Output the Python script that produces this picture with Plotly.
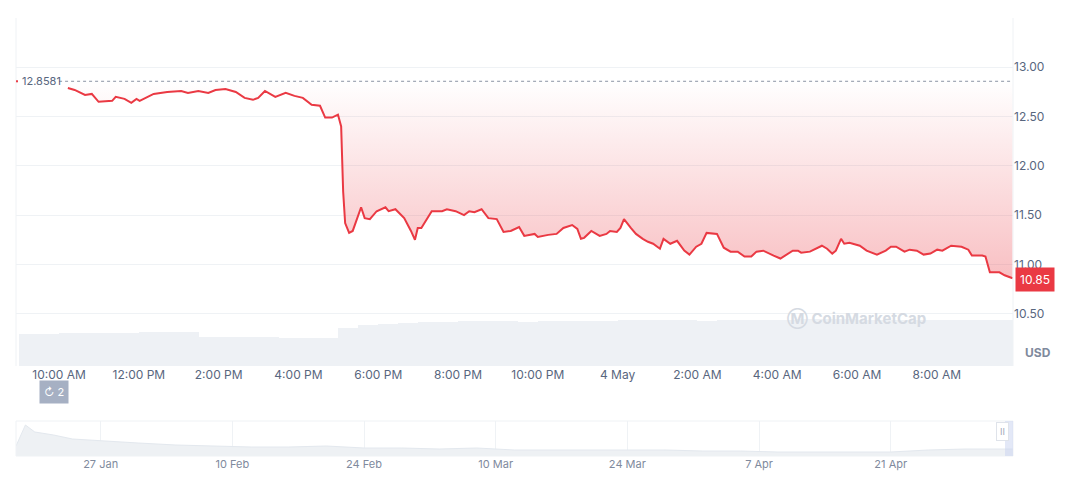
import pandas as pd
import plotly.graph_objects as go

# price, hours after 3 May 10:00 AM
price_hours = [0.22, 0.39, 0.65, 0.82, 0.99, 1.33, 1.42, 1.64, 1.81, 1.94, 2.02, 2.37, 2.71, 3.06,
               3.23, 3.49, 3.74, 3.92, 4.17, 4.43, 4.65, 4.86, 4.99, 5.16, 5.42, 5.68, 5.90, 6.11,
               6.33, 6.54, 6.67, 6.84, 6.99, 7.07, 7.12, 7.17, 7.27, 7.36, 7.57, 7.66, 7.79, 7.96,
               8.18, 8.26, 8.43, 8.65, 8.82, 8.92, 8.99, 9.08, 9.34, 9.60, 9.72, 9.94, 10.15, 10.28,
               10.41, 10.59, 10.76, 10.97, 11.14, 11.32, 11.53, 11.66, 11.92, 12.00, 12.26, 12.47,
               12.64, 12.86, 12.99, 13.08, 13.16, 13.34, 13.55, 13.72, 13.81, 13.98, 14.07, 14.16,
               14.33, 14.46, 14.63, 14.76, 14.89, 15.06, 15.15, 15.32, 15.49, 15.67, 15.80, 15.97,
               16.10, 16.23, 16.49, 16.66, 16.83, 17.01, 17.18, 17.35, 17.48, 17.65, 17.91, 18.08,
               18.39, 18.52, 18.60, 18.82, 19.12, 19.25, 19.38, 19.47, 19.60, 19.68, 19.81, 20.07,
               20.24, 20.50, 20.72, 20.85, 20.98, 21.19, 21.32, 21.50, 21.67, 21.84, 22.01, 22.14,
               22.36, 22.62, 22.79, 22.88, 23.14, 23.22, 23.33, 23.57, 23.70, 23.90]
price_values = [12.79, 12.77, 12.72, 12.73, 12.65, 12.66, 12.70, 12.68, 12.64, 12.68, 12.66, 12.73,
                12.75, 12.76, 12.74, 12.76, 12.74, 12.77, 12.78, 12.75, 12.69, 12.67, 12.69, 12.76,
                12.70, 12.74, 12.71, 12.69, 12.62, 12.61, 12.49, 12.49, 12.52, 12.40, 11.74, 11.42,
                11.32, 11.34, 11.58, 11.47, 11.46, 11.54, 11.58, 11.54, 11.56, 11.47, 11.34, 11.25,
                11.37, 11.37, 11.54, 11.54, 11.56, 11.54, 11.50, 11.54, 11.53, 11.56, 11.47, 11.46,
                11.33, 11.34, 11.38, 11.29, 11.31, 11.28, 11.30, 11.31, 11.37, 11.40, 11.36, 11.26,
                11.27, 11.34, 11.29, 11.31, 11.34, 11.33, 11.37, 11.46, 11.37, 11.31, 11.26, 11.23,
                11.21, 11.16, 11.26, 11.21, 11.24, 11.14, 11.10, 11.18, 11.21, 11.32, 11.31, 11.17,
                11.13, 11.13, 11.08, 11.08, 11.13, 11.14, 11.09, 11.06, 11.14, 11.14, 11.12, 11.13,
                11.19, 11.16, 11.11, 11.14, 11.26, 11.21, 11.22, 11.19, 11.14, 11.10, 11.14, 11.18,
                11.18, 11.13, 11.15, 11.14, 11.10, 11.11, 11.15, 11.14, 11.19, 11.18, 11.15, 11.09,
                11.09, 11.08, 10.92, 10.92, 10.89, 10.86]
open_price = 12.8581
last_price = 10.85

# volume every 30 min from 3 May 9:00 AM
volume_values = [32, 32, 33, 33, 33, 33, 34, 34, 34, 29, 29, 29, 29, 28, 28, 28,
                 38, 41, 42, 43, 44, 44, 45, 45, 45, 44, 45, 45, 45, 45, 46, 46, 46, 46,
                 45, 46, 46, 46, 46, 47, 47, 47, 46, 46, 46, 46, 46, 46, 46, 46]

tick_hours = [0, 2, 4, 6, 8, 10, 12, 14, 16, 18, 20, 22]
tick_labels = ['10:00 AM', '12:00 PM', '2:00 PM', '4:00 PM', '6:00 PM', '8:00 PM', '10:00 PM',
               '4 May', '2:00 AM', '4:00 AM', '6:00 AM', '8:00 AM']
price_ticks = [10.50, 11.00, 11.50, 12.00, 12.50, 13.00]

# navigator history
nav_dates = ['2025-01-18', '2025-01-19', '2025-01-20', '2025-01-22', '2025-01-24', '2025-01-27',
             '2025-01-31', '2025-02-04', '2025-02-08', '2025-02-12', '2025-02-16', '2025-02-20',
             '2025-02-24', '2025-02-28', '2025-03-04', '2025-03-08', '2025-03-12', '2025-03-16',
             '2025-03-20', '2025-03-24', '2025-03-28', '2025-04-01', '2025-04-05', '2025-04-09',
             '2025-04-13', '2025-04-17', '2025-04-21', '2025-04-25', '2025-04-29', '2025-05-04']
nav_values = [10, 31, 24, 21, 17, 15, 13, 11, 10, 9, 9, 10, 8, 8, 7, 8, 6, 6,
              6, 6, 6, 5, 5, 4, 4, 4, 4, 6, 7, 7]
nav_ticks = ['2025-01-27', '2025-02-10', '2025-02-24', '2025-03-10', '2025-03-24', '2025-04-07', '2025-04-21']
nav_labels = ['27 Jan', '10 Feb', '24 Feb', '10 Mar', '24 Mar', '7 Apr', '21 Apr']

base = pd.Timestamp('2025-05-03 10:00')
px = [base + pd.Timedelta(hours=h) for h in price_hours]
vx = [base + pd.Timedelta(hours=-1 + 0.5 * i) + pd.Timedelta(minutes=15) for i in range(len(volume_values))]
x0 = base + pd.Timedelta(hours=-1.08)
x1 = base + pd.Timedelta(hours=23.91)

RED = '#ea3943'
GRID = '#eff2f5'
TXT = '#58667e'

fig = go.Figure()

fig.add_trace(go.Bar(x=vx, y=volume_values, yaxis='y2', marker=dict(color='#eef1f5', line_width=0),
                     width=30 * 60 * 1000, hoverinfo='skip'))
fig.add_trace(go.Scatter(x=px, y=[open_price] * len(px), mode='lines', line=dict(width=0),
                         hoverinfo='skip'))
fig.add_trace(go.Scatter(x=px, y=price_values, mode='lines', line=dict(color=RED, width=2),
                         fill='tonexty',
                         fillgradient=dict(type='vertical',
                                           colorscale=[[0, 'rgba(234,57,67,0.32)'],
                                                       [1, 'rgba(234,57,67,0.0)']])))
fig.add_trace(go.Scatter(x=pd.to_datetime(nav_dates), y=nav_values, xaxis='x2', yaxis='y3',
                         mode='lines', line=dict(color='#e3e8ee', width=1), fill='tozeroy',
                         fillcolor='#eef1f4', hoverinfo='skip'))

fig.update_layout(
    width=1072, height=477, showlegend=False, plot_bgcolor='white', paper_bgcolor='white',
    margin=dict(l=0, r=0, t=0, b=0, autoexpand=False), bargap=0,
    font=dict(family='Inter, Roboto, sans-serif', color=TXT, size=12),
    xaxis=dict(domain=[8 / 1072, 1005 / 1072], range=[x0, x1], showgrid=False, zeroline=False,
               tickvals=[base + pd.Timedelta(hours=h) for h in tick_hours], ticktext=tick_labels,
               ticks='', showline=False, automargin=False, tickfont=dict(size=12, color=TXT)),
    yaxis=dict(domain=[119 / 477, 467 / 477], range=[9.97, 13.5], side='right',
               tickvals=price_ticks, ticktext=[f'{v:.2f}' for v in price_ticks], automargin=False,
               gridcolor=GRID, zeroline=False, ticks='', tickfont=dict(size=12, color=TXT)),
    yaxis2=dict(domain=[119 / 477, 467 / 477], overlaying='y', range=[0, 348], visible=False),
    xaxis2=dict(domain=[8 / 1072, 1005 / 1072], anchor='y3', range=['2025-01-18', '2025-05-04'],
                tickvals=pd.to_datetime(nav_ticks), ticktext=nav_labels, showgrid=True,
                automargin=False, gridcolor=GRID, ticks='', zeroline=False,
                tickfont=dict(size=11, color='#808a9d')),
    yaxis3=dict(domain=[29 / 477, 64 / 477], range=[0, 35], visible=False),
)

# frames
fig.add_shape(type='line', xref='paper', yref='paper', x0=1005 / 1072, x1=1005 / 1072,
              y0=119 / 477, y1=467 / 477, line=dict(color=GRID, width=1))
fig.add_shape(type='line', xref='paper', yref='paper', x0=8 / 1072, x1=8 / 1072,
              y0=119 / 477, y1=467 / 477, line=dict(color=GRID, width=1))
fig.add_shape(type='rect', xref='paper', yref='paper', x0=8 / 1072, x1=1005 / 1072,
              y0=29 / 477, y1=64 / 477, line=dict(color=GRID, width=1))
fig.add_shape(type='rect', xref='paper', yref='paper', x0=997 / 1072, x1=1005 / 1072,
              y0=29 / 477, y1=64 / 477, fillcolor='rgba(200,210,240,0.5)', line_width=0)
fig.add_annotation(xref='paper', yref='paper', x=1001 / 1072, y=44 / 477, text='II', showarrow=False,
                   bgcolor='white', bordercolor='#dfe3ea', borderpad=3, font=dict(size=9, color='#a0a8b8'))

# open price reference
fig.add_shape(type='line', xref='x', yref='y', x0=base + pd.Timedelta(hours=0.0), x1=x1,
              y0=open_price, y1=open_price, line=dict(color='#8a93a3', width=1, dash='dot'))
fig.add_annotation(xref='paper', yref='y', x=12 / 1072, y=open_price, text=f'{open_price}',
                   xanchor='left', showarrow=False, font=dict(size=11, color=TXT))
fig.add_shape(type='circle', xref='paper', yref='y', x0=8 / 1072, x1=10 / 1072,
              y0=open_price - 0.012, y1=open_price + 0.012, fillcolor=RED, line_width=0)

# last price badge
fig.add_annotation(xref='paper', yref='y', x=1007 / 1072, y=last_price, text=f'{last_price:.2f}',
                   xanchor='left', showarrow=False, bgcolor=RED, borderpad=4,
                   font=dict(size=12, color='white'))
fig.add_annotation(xref='paper', yref='paper', x=1045 / 1072, y=123 / 477, text='<b>USD</b>',
                   xanchor='right', showarrow=False, font=dict(size=12, color='#808a9d'))
fig.add_annotation(xref='paper', yref='paper', x=920 / 1072, y=167 / 477, text='<b>Ⓜ CoinMarketCap</b>',
                   showarrow=False, font=dict(size=15, color='#d5dae2'))
fig.add_annotation(xref='paper', yref='paper', x=31 / 1072, y=81 / 477, text='↻ 2', showarrow=False,
                   bgcolor='#a6b0c3', borderpad=4, font=dict(size=11, color='white'))

fig.write_html('out.html')
